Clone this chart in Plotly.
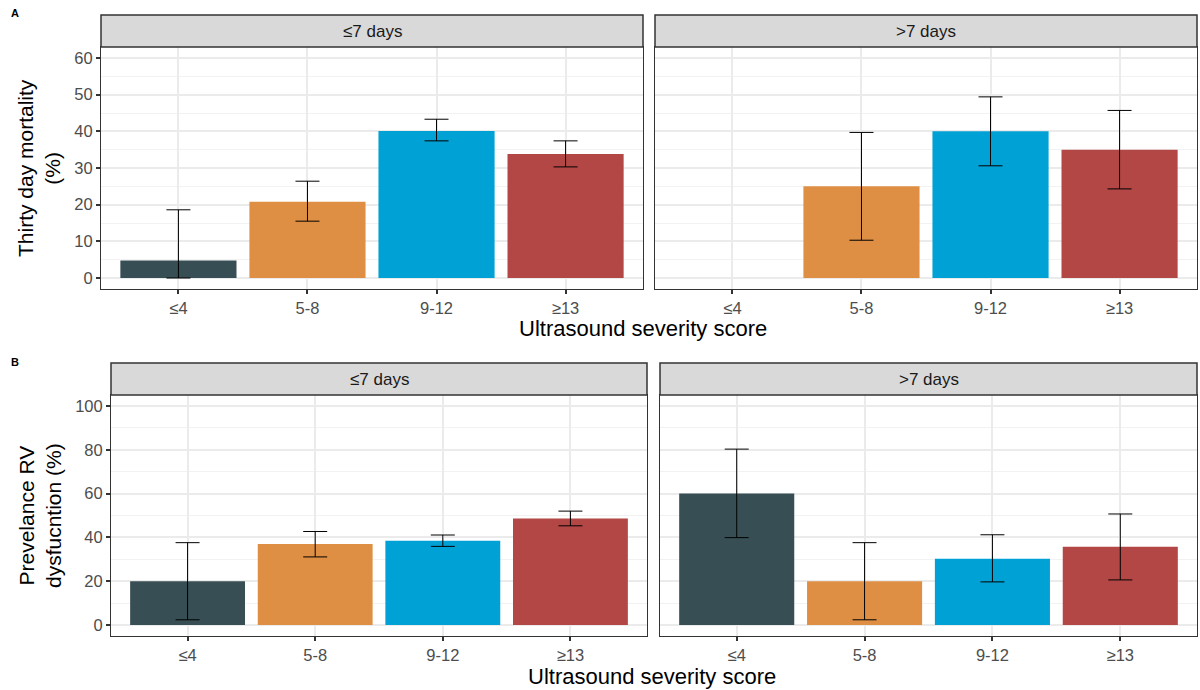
import plotly.graph_objects as go

# ---------------- data ----------------
categories = ["≤4", "5-8", "9-12", "≥13"]
colors = ["#374E55", "#DF8F44", "#00A1D5", "#B24745"]
facets = ["≤7 days", ">7 days"]

# Panel A: thirty day mortality (%)
mort_le7 = [4.8, 20.8, 40.1, 33.8]
mort_le7_lo = [0.0, 15.5, 37.4, 30.3]
mort_le7_hi = [18.6, 26.4, 43.3, 37.4]
mort_gt7 = [None, 25.0, 40.0, 35.0]
mort_gt7_lo = [None, 10.3, 30.6, 24.3]
mort_gt7_hi = [None, 39.7, 49.4, 45.7]

# Panel B: prevalence RV dysfunction (%)
rv_le7 = [20.0, 37.0, 38.5, 48.6]
rv_le7_lo = [2.4, 31.1, 35.9, 45.3]
rv_le7_hi = [37.6, 42.7, 41.1, 52.0]
rv_gt7 = [60.0, 20.0, 30.3, 35.7]
rv_gt7_lo = [39.9, 2.4, 19.7, 20.6]
rv_gt7_hi = [80.3, 37.6, 41.2, 50.7]

yticks_A = [0, 10, 20, 30, 40, 50, 60]
yticks_B = [0, 20, 40, 60, 80, 100]

# ---------------- layout helpers ----------------
W, H = 1200, 690
FONT = "Liberation Sans, Arial, Helvetica, sans-serif"


def fx(px):
    return px / W


def fy(py):
    return 1 - py / H


panels = [
    # (x0, x1, y0_top, y1_bottom)
    (101, 643, 47, 289),
    (655, 1197, 47, 289),
    (111, 647, 395, 636),
    (660, 1197, 395, 636),
]
strip_tops = [15, 15, 363, 363]

series = [
    (mort_le7, mort_le7_lo, mort_le7_hi),
    (mort_gt7, mort_gt7_lo, mort_gt7_hi),
    (rv_le7, rv_le7_lo, rv_le7_hi),
    (rv_gt7, rv_gt7_lo, rv_gt7_hi),
]

fig = go.Figure()

for i, (vals, lo, hi) in enumerate(series):
    ax = "" if i == 0 else str(i + 1)
    err_p = [None if v is None else h - v for v, h in zip(vals, hi)]
    err_m = [None if v is None else v - l for v, l in zip(vals, lo)]
    fig.add_trace(go.Bar(
        x=categories, y=vals,
        marker=dict(color=colors, line=dict(width=0)),
        width=0.9,
        error_y=dict(type="data", array=err_p, arrayminus=err_m,
                     color="black", thickness=1, width=12, visible=True),
        xaxis="x" + ax, yaxis="y" + ax,
        showlegend=False, hoverinfo="skip",
    ))

layout = dict(
    width=W, height=H,
    margin=dict(l=0, r=0, t=0, b=0),
    paper_bgcolor="white", plot_bgcolor="white",
    font=dict(family=FONT, color="#4D4D4D"),
    showlegend=False,
    bargap=0.1,
)

TICK_FONT = dict(size=16.5, color="#4D4D4D", family=FONT)

shapes = []
annotations = []
for i, (x0, x1, yt, yb) in enumerate(panels):
    ax = "" if i == 0 else str(i + 1)
    isA = i < 2
    layout["xaxis" + ax] = dict(
        domain=[fx(x0), fx(x1)], anchor="y" + ax,
        type="category", categoryorder="array", categoryarray=categories,
        range=[-0.6, 3.6],
        showgrid=True, gridcolor="#EBEBEB", gridwidth=2,
        showline=True, mirror=True, linecolor="#333333", linewidth=1,
        ticks="outside", ticklen=4, tickcolor="#333333", tickwidth=1.5,
        tickfont=TICK_FONT,
        zeroline=False, fixedrange=True,
    )
    ydict = dict(
        domain=[fy(yb), fy(yt)], anchor="x" + ax,
        range=[-3, 63] if isA else [-5, 105],
        tickvals=yticks_A if isA else yticks_B,
        showgrid=True, gridcolor="#EBEBEB", gridwidth=2,
        minor=dict(dtick=5 if isA else 10, tick0=0, showgrid=True,
                   gridcolor="#F2F2F2", gridwidth=1, ticks=""),
        showline=True, mirror=True, linecolor="#333333", linewidth=1,
        ticks="outside", ticklen=4, tickcolor="#333333", tickwidth=1.5,
        tickfont=TICK_FONT,
        zeroline=False, fixedrange=True,
    )
    if i in (1, 3):
        ydict["showticklabels"] = False
        ydict["ticks"] = ""
    layout["yaxis" + ax] = ydict

    # facet strip
    st = strip_tops[i]
    shapes.append(dict(type="rect", xref="paper", yref="paper",
                       x0=fx(x0), x1=fx(x1), y0=fy(yt), y1=fy(st),
                       fillcolor="#D9D9D9", line=dict(color="#333333", width=1.5),
                       layer="above"))
    annotations.append(dict(xref="paper", yref="paper",
                            x=fx((x0 + x1) / 2), y=fy((st + yt) / 2),
                            text=facets[i % 2], showarrow=False,
                            xanchor="center", yanchor="middle",
                            font=dict(size=17, color="#1A1A1A", family=FONT)))

# axis titles
annotations += [
    dict(xref="paper", yref="paper", x=fx(643), y=fy(328),
         text="Ultrasound severity score", showarrow=False,
         xanchor="center", yanchor="middle",
         font=dict(size=22, color="black", family=FONT)),
    dict(xref="paper", yref="paper", x=fx(652), y=fy(676),
         text="Ultrasound severity score", showarrow=False,
         xanchor="center", yanchor="middle",
         font=dict(size=22, color="black", family=FONT)),
    dict(xref="paper", yref="paper", x=fx(39), y=fy(168),
         text="Thirty day mortality<br>(%)", showarrow=False, textangle=-90,
         xanchor="center", yanchor="middle", align="center",
         font=dict(size=21, color="black", family=FONT)),
    dict(xref="paper", yref="paper", x=fx(40), y=fy(516),
         text="Prevelance RV<br>dysfucntion (%)", showarrow=False, textangle=-90,
         xanchor="center", yanchor="middle", align="center",
         font=dict(size=21, color="black", family=FONT)),
    dict(xref="paper", yref="paper", x=fx(9), y=fy(13),
         text="<b>A</b>", showarrow=False, xanchor="left", yanchor="middle",
         font=dict(size=11, color="black", family=FONT)),
    dict(xref="paper", yref="paper", x=fx(9), y=fy(362),
         text="<b>B</b>", showarrow=False, xanchor="left", yanchor="middle",
         font=dict(size=11, color="black", family=FONT)),
]

layout["shapes"] = shapes
layout["annotations"] = annotations
fig.update_layout(**layout)

fig.write_html("out.html")
